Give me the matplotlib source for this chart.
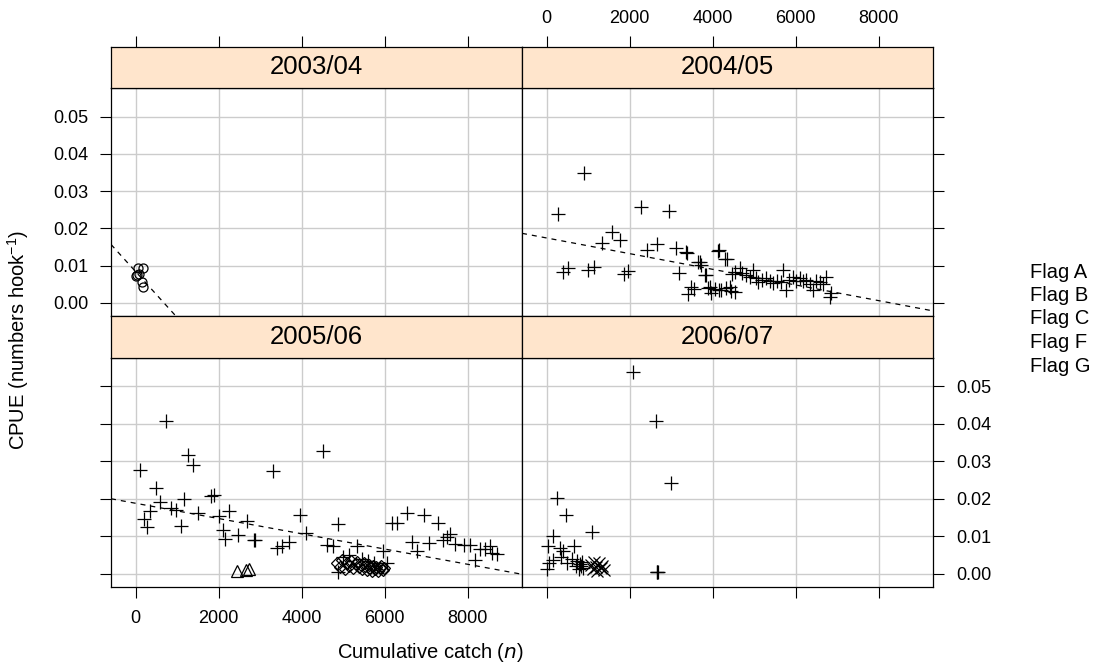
import matplotlib as mpl
mpl.use("Agg")
import matplotlib.pyplot as plt
import numpy as np

plt.rcParams['font.family'] = ['Liberation Sans', 'DejaVu Sans']
plt.rcParams['mathtext.default'] = 'regular'

# ---- data ----
seasons = ['2003/04', '2004/05', '2005/06', '2006/07']
flags = ['Flag A', 'Flag B', 'Flag C', 'Flag F', 'Flag G']

# 2003/04 -- Flag A
a0304_x = [10, 40, 63, 87, 145, 170, 170]
a0304_y = [0.0072, 0.0076, 0.0093, 0.0078, 0.0057, 0.0042, 0.0093]

# 2004/05 -- Flag B
b0405_x = [282, 386, 507, 910, 1006, 1151, 1336, 1568, 1778, 1858, 1971, 2277,
           2422, 2664, 2943, 3122, 3201, 3363, 3378, 3402, 3484, 3547, 3643,
           3684, 3725, 3805, 3845, 3885, 3925, 3966, 4046, 4126, 4150, 4166,
           4207, 4287, 4311, 4343, 4408, 4449, 4463, 4529, 4529, 4649, 4700,
           4800, 4890, 4970, 5050, 5091, 5180, 5293, 5380, 5454, 5550, 5640,
           5695, 5776, 5850, 5936, 6010, 6097, 6180, 6258, 6340, 6418, 6500,
           6579, 6650, 6740, 6820, 6861]
b0405_y = [0.0238, 0.0084, 0.0093, 0.0350, 0.0088, 0.0097, 0.0160, 0.0190,
           0.0168, 0.0077, 0.0086, 0.0258, 0.0142, 0.0157, 0.0247, 0.0148,
           0.0081, 0.0138, 0.0135, 0.0024, 0.0044, 0.0037, 0.0111, 0.0111,
           0.0102, 0.0075, 0.0075, 0.0039, 0.0044, 0.0026, 0.0037, 0.0140,
           0.0142, 0.0035, 0.0035, 0.0117, 0.0041, 0.0118, 0.0044, 0.0033,
           0.0078, 0.0084, 0.0030, 0.0093, 0.0080, 0.0075, 0.0071, 0.0088,
           0.0066, 0.0057, 0.0062, 0.0066, 0.0058, 0.0053, 0.0060, 0.0055,
           0.0088, 0.0035, 0.0062, 0.0071, 0.0060, 0.0066, 0.0058, 0.0062,
           0.0050, 0.0035, 0.0060, 0.0057, 0.0050, 0.0071, 0.0017, 0.0026]

# 2005/06 -- Flag B
b0506_x = [111, 208, 273, 352, 490, 594, 731, 852, 972, 1093, 1158, 1270,
           1390, 1510, 1817, 1897, 2017, 2099, 2162, 2258, 2461, 2685, 2847,
           2878, 3320, 3401, 3522, 3706, 3964, 4108, 4526, 4608, 4767, 4888,
           4888, 5000, 5150, 5332, 5450, 5600, 5750, 5974, 6056, 6176, 6297,
           6538, 6658, 6779, 6940, 7060, 7300, 7421, 7503, 7583, 7703, 7904,
           8065, 8186, 8306, 8427, 8547, 8588, 8709]
b0506_y = [0.0278, 0.0146, 0.0126, 0.0167, 0.0229, 0.0191, 0.0407, 0.0175,
           0.0171, 0.0128, 0.0200, 0.0316, 0.0289, 0.0162, 0.0207, 0.0211,
           0.0153, 0.0118, 0.0094, 0.0167, 0.0104, 0.0140, 0.0089, 0.0091,
           0.0273, 0.0069, 0.0073, 0.0084, 0.0158, 0.0109, 0.0327, 0.0078,
           0.0073, 0.0133, 0.0006, 0.0045, 0.0050, 0.0073, 0.0040, 0.0035,
           0.0030, 0.0060, 0.0029, 0.0136, 0.0136, 0.0162, 0.0086, 0.0060,
           0.0158, 0.0082, 0.0136, 0.0089, 0.0098, 0.0107, 0.0080, 0.0078,
           0.0078, 0.0037, 0.0066, 0.0066, 0.0073, 0.0055, 0.0053]

# 2005/06 -- Flag C
c0506_x = [2450, 2660, 2720]
c0506_y = [0.0009, 0.0011, 0.0012]

# 2005/06 -- Flag F
f0506_x = [4850, 4920, 4980, 5050, 5100, 5150, 5200, 5250, 5300, 5330, 5380,
           5420, 5460, 5500, 5540, 5580, 5620, 5660, 5700, 5730, 5770, 5800,
           5840, 5880, 5920, 5960, 5990]
f0506_y = [0.0030, 0.0018, 0.0036, 0.0012, 0.0028, 0.0020, 0.0034, 0.0015,
           0.0026, 0.0032, 0.0018, 0.0025, 0.0012, 0.0030, 0.0020, 0.0010,
           0.0024, 0.0016, 0.0008, 0.0022, 0.0012, 0.0018, 0.0009, 0.0015,
           0.0021, 0.0010, 0.0016]

# 2006/07 -- Flag B
b0607_x = [0, 24, 65, 145, 162, 241, 331, 347, 400, 468, 500, 600, 668, 700,
           740, 780, 800, 830, 860, 880, 1086, 2075, 2639, 2650, 2663, 2675,
           3001]
b0607_y = [0.0013, 0.0073, 0.0029, 0.0037, 0.0100, 0.0202, 0.0069, 0.0046,
           0.0060, 0.0156, 0.0030, 0.0040, 0.0073, 0.0020, 0.0035, 0.0012,
           0.0027, 0.0020, 0.0032, 0.0015, 0.0111, 0.0538, 0.0407, 0.0004,
           0.0006, 0.0005, 0.0243]

# 2006/07 -- Flag G
g0607_x = [1070, 1110, 1150, 1190, 1220, 1260, 1300, 1340, 1380]
g0607_y = [0.0025, 0.0012, 0.0032, 0.0018, 0.0008, 0.0028, 0.0015, 0.0022,
           0.0010]

# dashed fitted lines (intercept, slope) per season, None = no line
fit_intercept = [0.00839, 0.01744, 0.01881, None]
fit_slope = [-1.229e-5, -2.10e-6, -2.03e-6, None]

x_ticks = [0, 2000, 4000, 6000, 8000]
y_ticks = [0.00, 0.01, 0.02, 0.03, 0.04, 0.05]

points = {
    '2003/04': [(a0304_x, a0304_y, 'Flag A')],
    '2004/05': [(b0405_x, b0405_y, 'Flag B')],
    '2005/06': [(b0506_x, b0506_y, 'Flag B'), (c0506_x, c0506_y, 'Flag C'),
                (f0506_x, f0506_y, 'Flag F')],
    '2006/07': [(b0607_x, b0607_y, 'Flag B'), (g0607_x, g0607_y, 'Flag G')],
}

# flag -> (marker, size)
flag_marker = {
    'Flag A': ('o', 6.5),
    'Flag B': ('+', 10),
    'Flag C': ('^', 8),
    'Flag F': ('D', 6.5),
    'Flag G': ('x', 8),
}

# ---- layout (figure fractions) ----
W, H = 1100, 670
fig = plt.figure(figsize=(11, 6.7), dpi=100)

xl, xm, xr = 111 / W, 522 / W, 933 / W
rows = {  # (plot bottom, plot top, strip top) in pixels from top
    0: (316.3, 88.3, 46.7),
    1: (587.3, 357.7, 316.3),
}
xlim = (-596, 9314)
ylim = (-0.00357, 0.0576)
strip_col = '#ffe5cc'
grid_col = '#cccccc'
tick_kw = dict(direction='out', length=8, width=0.8, labelsize=13, pad=8.5)


def fy(p):
    return 1 - p / H


for i, season in enumerate(seasons):
    r, c = divmod(i, 2)
    pb, pt, st = rows[r]
    x0 = xl if c == 0 else xm
    w = xm - xl if c == 0 else xr - xm
    ax = fig.add_axes([x0, fy(pb), w, fy(pt) - fy(pb)])
    sax = fig.add_axes([x0, fy(pt), w, fy(st) - fy(pt)])

    ax.set_xlim(xlim)
    ax.set_ylim(ylim)
    ax.set_xticks(x_ticks)
    ax.set_yticks(y_ticks)
    ax.grid(True, color=grid_col, lw=1.0)
    ax.set_axisbelow(True)
    for sp in ax.spines.values():
        sp.set_linewidth(0.9)
    ax.yaxis.set_major_formatter(mpl.ticker.FormatStrFormatter('%.2f'))

    # lattice style alternating axes
    ax.tick_params(**tick_kw)
    ax.tick_params(top=False, labeltop=False)
    if r == 0:
        ax.tick_params(bottom=False, labelbottom=False)
    else:
        ax.tick_params(bottom=True, labelbottom=(c == 0))
    if c == 0:
        ax.tick_params(left=True, labelleft=(r == 0), right=False, labelright=False)
    else:
        ax.tick_params(left=False, labelleft=False, right=True, labelright=(r == 1))

    # strip
    sax.set_facecolor(strip_col)
    sax.set_xlim(xlim)
    sax.set_yticks([])
    sax.set_xticks(x_ticks)
    sax.tick_params(**tick_kw)
    sax.tick_params(bottom=False, labelbottom=False, top=(r == 0),
                    labeltop=(r == 0 and c == 1), pad=6)
    for sp in sax.spines.values():
        sp.set_linewidth(0.9)
    sax.text(0.5, 0.5, season, transform=sax.transAxes, ha='center',
             va='center', fontsize=18.5)

    # points
    for xs, ys, flag in points[season]:
        mk, ms = flag_marker[flag]
        ax.plot(xs, ys, linestyle='none', marker=mk, ms=ms, mfc='none',
                mec='black', mew=0.9)

    # fitted line
    if fit_intercept[i] is not None:
        ax.axline((0, fit_intercept[i]), slope=fit_slope[i], color='black',
                  lw=0.9, linestyle=(0, (4, 4)))

# legend (text only)
leg_y = [272, 295.5, 319, 342.5, 366]
for lab, yy in zip(flags, leg_y):
    fig.text(1030 / W, fy(yy), lab, ha='left', va='center', fontsize=14.5)

fig.text(18 / W, fy(340), 'CPUE (numbers hook$^{-1}$)', rotation=90,
         ha='center', va='center', fontsize=14.5)
fig.text(430 / W, fy(652), 'Cumulative catch ($\\it{n}$)', ha='center',
         va='center', fontsize=14.5)

fig.savefig('out.png', dpi=100)
